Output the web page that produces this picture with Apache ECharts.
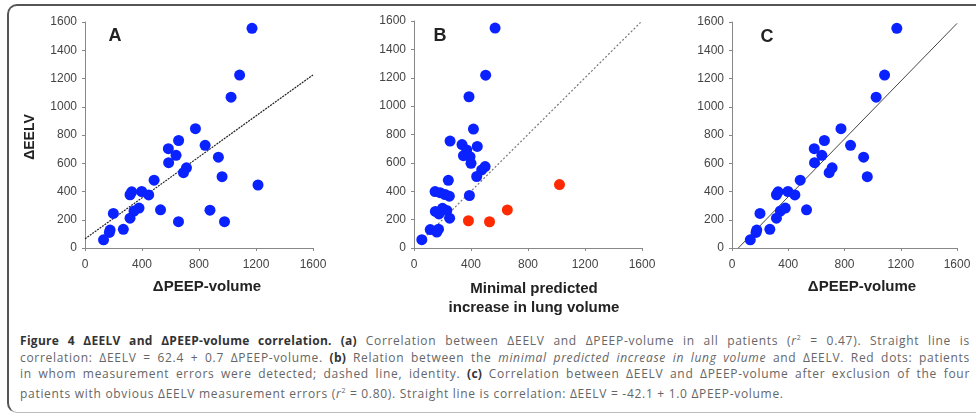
<!DOCTYPE html>
<html>
<head>
	<meta charset="utf-8" />
	<title>Figure 4</title>
	<script src="https://cdn.jsdelivr.net/npm/echarts@6.0.0/dist/echarts.min.js"></script>
	<style>
		body { margin: 0; background: #fff; }
		#frame {
			position: absolute; left: 7px; top: 4px; width: 990px; height: 409px;
			border: 2px solid #555; border-bottom: 1px solid #bbb; border-radius: 10px; box-sizing: border-box;
		}
		#chart { position: absolute; left: 0; top: 0; width: 976px; height: 320px; }
		#caption {
			position: absolute; left: 20px; top: 330px; width: 950px;
			font-family: 'Open Sans', sans-serif; font-size: 12px; letter-spacing: 0.7px; line-height: 16.5px; color: #666;
		}
		#caption .ln { text-align: justify; text-align-last: justify; }
		#caption .last { text-align: left; }
		#caption b { color: #333; letter-spacing: 0.3px; }
	</style>
</head>

<body>
	<div id="frame"></div>
	<div id="chart"></div>
	<div id="caption">
		<div class="ln"><b>Figure 4 ΔEELV and ΔPEEP-volume correlation.</b> <b>(a)</b> Correlation between ΔEELV and ΔPEEP-volume in all patients (<i>r</i><sup style="font-size:7px">2</sup> = 0.47). Straight line is</div>
		<div class="ln">correlation: ΔEELV = 62.4 + 0.7 ΔPEEP-volume. <b>(b)</b> Relation between the <i>minimal predicted increase in lung volume</i> and ΔEELV. Red dots: patients</div>
		<div class="ln">in whom measurement errors were detected; dashed line, identity. <b>(c)</b> Correlation between ΔEELV and ΔPEEP-volume after exclusion of the four</div>
		<div class="last">patients with obvious ΔEELV measurement errors (<i>r</i><sup style="font-size:7px">2</sup> = 0.80). Straight line is correlation: ΔEELV = -42.1 + 1.0 ΔPEEP-volume.</div>
	</div>

	<script type="text/javascript">
		// ΔPEEP-volume vs ΔEELV, patients kept in panel C
		var peepKept = [
			[1172, 1555], [1085, 1224], [1025, 1068], [775, 845], [657, 761], [843, 727],
			[585, 703], [639, 656], [936, 643], [587, 604], [712, 568], [691, 533],
			[962, 505], [485, 480], [316, 377], [328, 398], [398, 400], [447, 376],
			[379, 283], [344, 262], [530, 270], [199, 245], [316, 211], [269, 132],
			[176, 127], [171, 110], [130, 58]
		];
		// patients with measurement errors (removed in C)
		var peepErrors = [[1214, 446], [877, 268], [656, 186], [979, 186]];

		// minimal predicted increase in lung volume vs ΔEELV
		var minPredOk = [
			[569, 1550], [503, 1218], [386, 1066], [417, 838], [253, 754], [337, 729],
			[370, 691], [444, 716], [347, 651], [393, 644], [400, 597], [499, 574],
			[475, 550], [440, 504], [241, 477], [148, 398], [183, 390], [218, 377],
			[248, 365], [389, 370], [150, 258], [200, 280], [230, 265], [250, 210],
			[175, 240], [55, 59], [114, 130], [172, 133], [160, 112]
		];
		var minPredErrors = [[382, 192], [530, 185], [655, 268], [1021, 447]];

		// lines
		var lineA = [[0, 65], [1600, 1225]];
		var lineB = [[30, 30], [1590, 1590]];
		var lineC = [[45, 0], [1600, 1590]];

		var xTicks = [0, 400, 800, 1200, 1600];
		var yTicks = [0, 200, 400, 600, 800, 1000, 1200, 1400, 1600];

		var blue = '#0a22ff', red = '#ff2a00';
		var axisFont = 'Liberation Sans, Arial, sans-serif';

		var dom = document.getElementById('chart');
		var myChart = echarts.init(dom, null, { renderer: 'canvas' });

		function plain(v) { return String(v); }

		function xAx(i) {
			return {
				gridIndex: i, type: 'value', min: xTicks[0], max: xTicks[xTicks.length - 1], interval: 400,
				axisLine: { show: true, lineStyle: { color: '#888', width: 1 } },
				axisTick: { show: true, length: 3, lineStyle: { color: '#888' } },
				splitLine: { show: false },
				axisLabel: { fontSize: 12, color: '#444', margin: 11, fontFamily: axisFont, formatter: plain }
			};
		}
		function yAx(i) {
			return {
				gridIndex: i, type: 'value', min: yTicks[0], max: yTicks[yTicks.length - 1], interval: 200,
				axisLine: { show: true, lineStyle: { color: '#888', width: 1 } },
				axisTick: { show: true, length: 3, lineStyle: { color: '#888' } },
				splitLine: { show: false },
				axisLabel: { fontSize: 12, color: '#444', margin: 8, fontFamily: axisFont, formatter: plain }
			};
		}
		function dots(i, data, color) {
			return { type: 'scatter', xAxisIndex: i, yAxisIndex: i, data: data, symbolSize: 11, itemStyle: { color: color, opacity: 1 }, z: 3 };
		}
		function line(i, data, style) {
			return { type: 'line', xAxisIndex: i, yAxisIndex: i, data: data, symbol: 'none', lineStyle: style, z: 2 };
		}
		function txt(x, y, s, size, rot) {
			return {
				type: 'text', x: x, y: y, rotation: rot || 0,
				style: { text: s, font: 'bold ' + size + 'px ' + axisFont, fill: '#222', textAlign: 'center', textVerticalAlign: 'middle' }
			};
		}

		var option = {
			animation: false,
			grid: [
				{ left: 85, top: 22, width: 228, height: 226, outerBoundsMode: 'none' },
				{ left: 414, top: 21, width: 228, height: 227, outerBoundsMode: 'none' },
				{ left: 732, top: 22, width: 225, height: 226, outerBoundsMode: 'none' }
			],
			xAxis: [xAx(0), xAx(1), xAx(2)],
			yAxis: [yAx(0), yAx(1), yAx(2)],
			series: [
				line(0, lineA, { color: '#222', width: 1.2, type: [2, 1] }),
				dots(0, peepKept.concat(peepErrors), blue),
				line(1, lineB, { color: '#777', width: 1.2, type: [2, 2] }),
				dots(1, minPredOk, blue),
				dots(1, minPredErrors, red),
				line(2, lineC, { color: '#444', width: 1 }),
				dots(2, peepKept, blue)
			],
			graphic: [
				txt(115, 36, 'A', 18), txt(440, 36, 'B', 18), txt(767, 37, 'C', 18),
				txt(30, 137, 'ΔEELV', 14, Math.PI / 2),
				txt(207, 287, 'ΔPEEP-volume', 15),
				txt(534, 289, 'Minimal predicted', 15),
				txt(534, 308, 'increase in lung volume', 15),
				txt(862, 287, 'ΔPEEP-volume', 15)
			]
		};

		myChart.setOption(option);
		window.addEventListener('resize', myChart.resize);
	</script>
</body>
</html>
